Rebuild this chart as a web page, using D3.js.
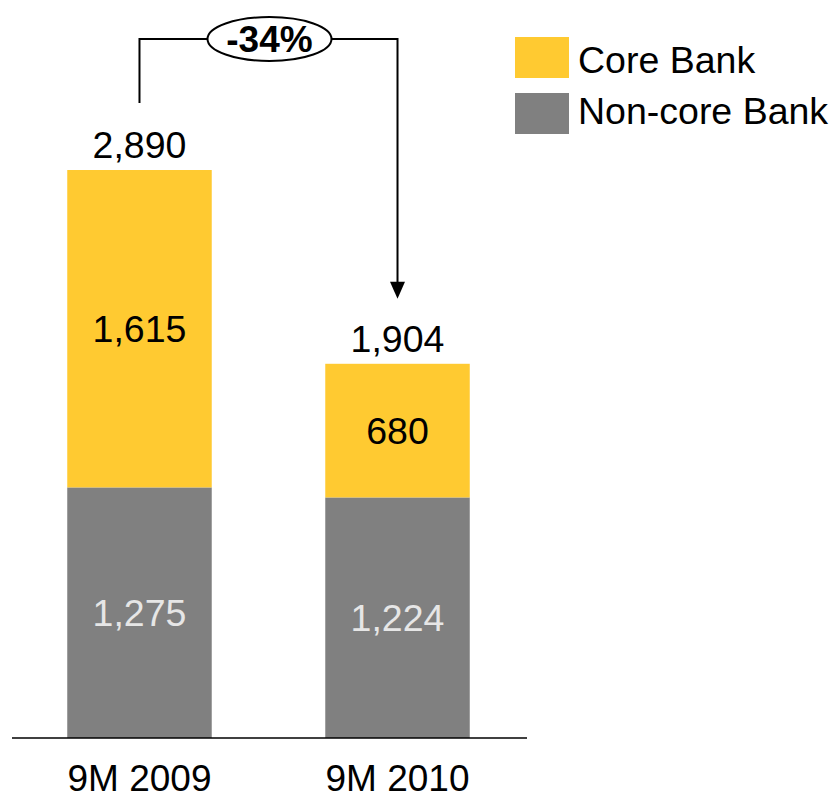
<!DOCTYPE html>
<html>
<head>
<meta charset="utf-8">
<script src="https://cdn.jsdelivr.net/npm/d3@7"></script>
<style>
  html, body { margin: 0; padding: 0; background: #fff; }
  svg { display: block; font-family: "Liberation Sans", Arial, sans-serif; }
</style>
</head>
<body>
<svg id="chart" width="833" height="798"></svg>
<script>
const categories = ["9M 2009", "9M 2010"];
const seriesNames = ["Non-core Bank", "Core Bank"];
const nonCore = [1275, 1224];
const core = [1615, 680];
const totals = [2890, 1904];
const changeLabel = "-34%";
const colors = { "Core Bank": "#FFCA31", "Non-core Bank": "#808080" };

const svg = d3.select("#chart");
const baseY = 738;
const fs = 37.5;

const x = d3.scaleBand().domain(categories).range([11, 526]).paddingInner(0.44).paddingOuter(0.218);
const y = d3.scaleLinear().domain([0, 2890]).range([baseY, 170]);

const rows = categories.map((c, i) => ({ cat: c, "Non-core Bank": nonCore[i], "Core Bank": core[i], total: totals[i] }));
const stack = d3.stack().keys(seriesNames)(rows);

const g = svg.append("g");
stack.forEach(layer => {
  g.selectAll(null).data(layer).enter().append("rect")
    .attr("x", d => x(d.data.cat))
    .attr("width", x.bandwidth())
    .attr("y", d => y(d[1]))
    .attr("height", d => y(d[0]) - y(d[1]))
    .attr("fill", colors[layer.key]);
  g.selectAll(null).data(layer).enter().append("text")
    .attr("x", d => x(d.data.cat) + x.bandwidth() / 2)
    .attr("y", d => (y(d[0]) + y(d[1])) / 2 + 13.5)
    .attr("text-anchor", "middle")
    .attr("font-size", fs)
    .attr("fill", layer.key === "Core Bank" ? "#000" : "#E6E6E6")
    .text(d => d3.format(",")(d.data[layer.key]));
});

// totals
g.selectAll(null).data(rows).enter().append("text")
  .attr("x", d => x(d.cat) + x.bandwidth() / 2)
  .attr("y", d => y(d.total) - 12)
  .attr("text-anchor", "middle")
  .attr("font-size", fs)
  .attr("fill", "#000")
  .text(d => d3.format(",")(d.total));

// baseline axis
svg.append("line").attr("x1", 12).attr("x2", 527).attr("y1", baseY).attr("y2", baseY)
  .attr("stroke", "#000").attr("stroke-width", 1.5);

const xAxis = d3.axisBottom(x).tickSize(0).tickPadding(0);
const ax = svg.append("g").attr("transform", `translate(0,${baseY})`).call(xAxis);
ax.select(".domain").remove();
ax.selectAll("text").attr("font-size", 37).attr("fill", "#000")
  .attr("font-family", "Liberation Sans, Arial, sans-serif")
  .attr("dy", null).attr("y", 53);

// change annotation
const x0 = x(categories[0]) + x.bandwidth() / 2;
const x1 = x(categories[1]) + x.bandwidth() / 2;
const topY = 39;
const ex = (x0 + x1) / 2 + 1, ery = 22, erx = 62;
const ann = svg.append("g").attr("stroke", "#000").attr("stroke-width", 2).attr("fill", "none");
ann.append("path").attr("d", `M${x0},${y(totals[0]) - 67}V${topY}H${ex - erx}`);
ann.append("path").attr("d", `M${ex + erx},${topY}H${x1}V${y(totals[1]) - 70}`);
ann.append("ellipse").attr("cx", ex).attr("cy", topY).attr("rx", erx).attr("ry", ery).attr("fill", "#fff");
svg.append("path")
  .attr("d", `M${x1 - 7.5},${y(totals[1]) - 82}L${x1 + 7.5},${y(totals[1]) - 82}L${x1},${y(totals[1]) - 65}Z`)
  .attr("fill", "#000");
svg.append("text").attr("x", ex).attr("y", topY + 13).attr("text-anchor", "middle")
  .attr("font-size", 37).attr("font-weight", "bold").attr("fill", "#000").text(changeLabel);

// legend
const legendItems = ["Core Bank", "Non-core Bank"];
const leg = svg.append("g");
legendItems.forEach((k, i) => {
  leg.append("rect").attr("x", 515).attr("y", 37 + i * 56).attr("width", 54).attr("height", 41).attr("fill", colors[k]);
  leg.append("text").attr("x", 578).attr("y", 73 + i * 51).attr("font-size", fs).attr("fill", "#000").text(k);
});
</script>
</body>
</html>
